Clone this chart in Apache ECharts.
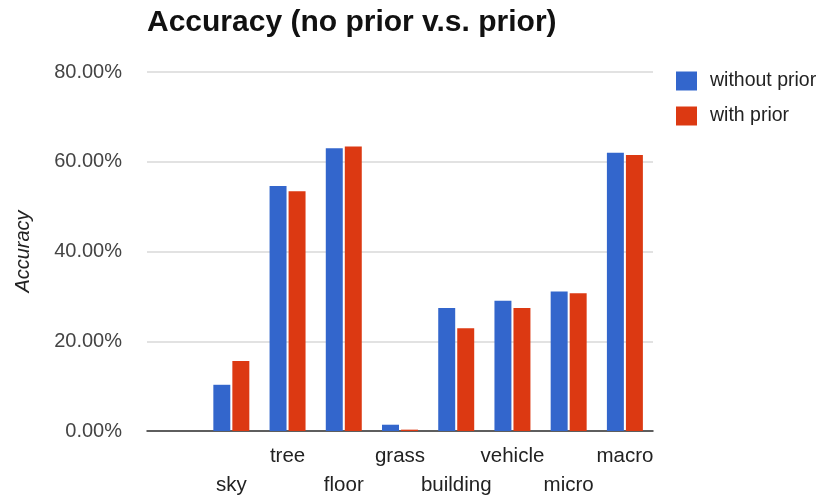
<!DOCTYPE html>
<html><head><meta charset="utf-8">
<script src="https://cdn.jsdelivr.net/npm/echarts@6/dist/echarts.min.js"></script>
<style>html,body{margin:0;padding:0;background:#fff}#c{width:822px;height:500px}</style>
</head><body><div id="c"></div>
<script>
const categories = ['', 'sky', 'tree', 'floor', 'grass', 'building', 'vehicle', 'micro', 'macro'];
const withoutPrior = [null, 10.3, 54.6, 63.0, 1.4, 27.4, 29.0, 31.1, 62.0];
const withPrior = [null, 15.6, 53.4, 63.4, 0.3, 22.9, 27.4, 30.7, 61.5];
const seriesNames = ['without prior', 'with prior'];
const yTicks = [0, 20, 40, 60, 80];

const chart = echarts.init(document.getElementById('c'));
chart.setOption({
  animation: false,
  title: {
    text: 'Accuracy (no prior v.s. prior)',
    left: 142, top: 3,
    textStyle: { fontFamily: 'Liberation Sans', fontSize: 30, fontWeight: 'bold', color: '#111' }
  },
  legend: {
    orient: 'vertical', left: 671, top: 66,
    itemWidth: 21, itemHeight: 19, itemGap: 15,
    icon: 'rect',
    textStyle: { fontFamily: 'Liberation Sans', fontSize: 19.5, color: '#222', padding: [0, 0, 0, 8] },
    data: seriesNames
  },
  grid: { left: 147, right: 169, top: 72, bottom: 67 },
  xAxis: {
    type: 'category', data: categories,
    axisTick: { show: false },
    axisLine: { lineStyle: { color: '#333', width: 1.5 } },
    axisLabel: {
      interval: 0, margin: 11,
      fontFamily: 'Liberation Sans', fontSize: 20.5, color: '#222', lineHeight: 29,
      formatter: (v, i) => (i % 2 === 1 ? '\n' + v : v)
    }
  },
  yAxis: {
    type: 'value', min: yTicks[0], max: yTicks[yTicks.length - 1], interval: 20,
    name: 'Accuracy', nameLocation: 'middle', nameGap: 114,
    nameTextStyle: { fontFamily: 'Liberation Sans', fontSize: 20, fontStyle: 'italic', color: '#222' },
    axisLine: { show: false }, axisTick: { show: false },
    splitLine: { lineStyle: { color: '#d8d8d8', width: 1.5 } },
    axisLabel: {
      margin: 25, fontFamily: 'Liberation Sans', fontSize: 20, color: '#444',
      formatter: v => v.toFixed(2) + '%'
    }
  },
  series: [
    { name: seriesNames[0], type: 'bar', data: withoutPrior, itemStyle: { color: '#3366cc' }, barGap: '12%', barCategoryGap: '36%' },
    { name: seriesNames[1], type: 'bar', data: withPrior, itemStyle: { color: '#dc3912' }, barGap: '12%', barCategoryGap: '36%' }
  ]
});
</script>
</body></html>
